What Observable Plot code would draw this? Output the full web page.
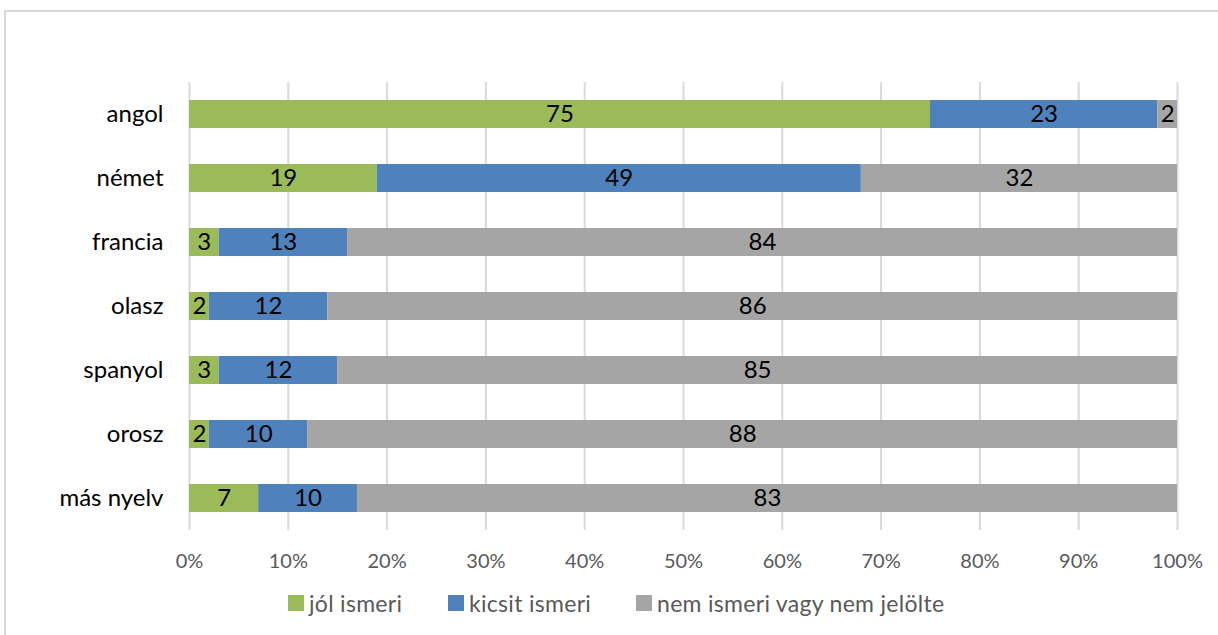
<!DOCTYPE html>
<html>
<head>
<meta charset="utf-8">
<script src="https://cdn.jsdelivr.net/npm/d3@7"></script>
<script src="https://cdn.jsdelivr.net/npm/@observablehq/plot@0.6"></script>
<style>
  html, body { margin: 0; padding: 0; background: #fff; }
  body { width: 1218px; height: 635px; position: relative; overflow: hidden; font-family: Lato, "Open Sans", sans-serif; }
  #frame { position: absolute; left: 4px; top: 10px; width: 1230px; height: 640px; border: 2px solid #d9d9d9; box-sizing: border-box; }
  #chart { position: absolute; left: 0; top: 0; }
  #legend { position: absolute; top: 589px; left: 0; width: 1218px; height: 28px; }
  .item { position: absolute; top: 0; display: flex; align-items: center; font-size: 23px; color: #595959; height: 28px; letter-spacing: 0.3px; }
  .sw { width: 16px; height: 16px; margin-right: 5px; }
</style>
</head>
<body>
<div id="frame"></div>
<div id="chart"></div>
<div id="legend"></div>
<script>
const languages = ["angol", "német", "francia", "olasz", "spanyol", "orosz", "más nyelv"];
const categories = ["jól ismeri", "kicsit ismeri", "nem ismeri vagy nem jelölte"];
const colors = ["#9bbb59", "#4f81bd", "#a5a5a5"];
const jolIsmeri =    [75, 19, 3, 2, 3, 2, 7];
const kicsitIsmeri = [23, 49, 13, 12, 12, 10, 10];
const nemIsmeri =    [2, 32, 84, 86, 85, 88, 83];
const xTicks = [0, 10, 20, 30, 40, 50, 60, 70, 80, 90, 100];

const series = [jolIsmeri, kicsitIsmeri, nemIsmeri];
const data = [];
languages.forEach((lang, i) => {
  categories.forEach((cat, j) => {
    data.push({lang, cat, value: series[j][i]});
  });
});

const chart = Plot.plot({
  width: 1218,
  height: 580,
  marginLeft: 189,
  marginRight: 41,
  marginTop: 82,
  marginBottom: 50,
  style: {fontFamily: "Lato, 'Open Sans', sans-serif", background: "transparent"},
  x: {domain: [0, 100], ticks: xTicks, label: null},
  y: {domain: languages, label: null, paddingInner: 0.56, paddingOuter: 0.28},
  color: {domain: categories, range: colors},
  marks: [
    Plot.ruleX(xTicks, {stroke: "#d9d9d9", strokeWidth: 2, strokeOpacity: 1}),
    Plot.barX(data, Plot.stackX({x: "value", y: "lang", fill: "cat", order: null})),
    Plot.text(data, Plot.stackX({x: "value", y: "lang", z: "cat", text: d => String(d.value), order: null, fill: "#000", fontSize: 24})),
    Plot.axisX({ticks: xTicks, tickFormat: d => d + "%", tickSize: 0, tickPadding: 23, fontSize: 20, color: "#595959", label: null}),
    Plot.axisY({tickSize: 0, tickPadding: 26, fontSize: 24, color: "#000", label: null})
  ]
});
document.getElementById("chart").appendChild(chart);

const legend = document.getElementById("legend");
const legendX = [288, 448, 636];
categories.forEach((cat, j) => {
  const item = document.createElement("div");
  item.className = "item";
  item.style.left = legendX[j] + "px";
  const sw = document.createElement("div");
  sw.className = "sw";
  sw.style.background = colors[j];
  item.appendChild(sw);
  const t = document.createElement("span");
  t.textContent = cat;
  item.appendChild(t);
  legend.appendChild(item);
});
</script>
</body>
</html>
